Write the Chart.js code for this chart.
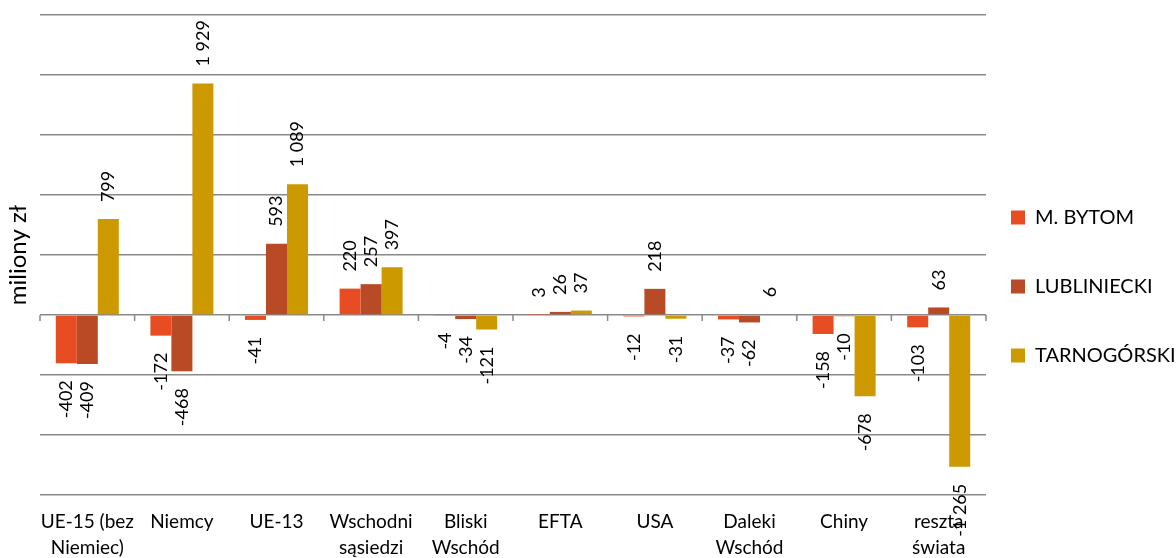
<!DOCTYPE html>
<html lang="pl">
<head>
<meta charset="UTF-8">
<title>Saldo obrotów</title>
<script src="https://cdn.jsdelivr.net/npm/chart.js"></script>
<style>
  html, body { margin: 0; padding: 0; background: #fff; }
  #wrap { width: 1176px; height: 558px; position: relative; }
</style>
</head>
<body>
<div id="wrap"><canvas id="chart"></canvas></div>
<script>
// dane (miliony zł)
const categories = [['UE-15 (bez', 'Niemiec)'], 'Niemcy', 'UE-13', ['Wschodni', 'sąsiedzi'],
  ['Bliski', 'Wschód'], 'EFTA', 'USA', ['Daleki', 'Wschód'], 'Chiny', ['reszta', 'świata']];
const seriesNames = ['M. BYTOM', 'LUBLINIECKI', 'TARNOGÓRSKI'];
const bytom = [-402, -172, -41, 220, -4, 3, -12, -37, -158, -103];
const lubliniecki = [-409, -468, 593, 257, -34, 26, 218, -62, -10, 63];
const tarnogorski = [799, 1929, 1089, 397, -121, 37, -31, 6, -678, -1265];
const yMin = -1500, yMax = 2500, yStep = 500;

const colors = ['#E84C22', '#B84A26', '#CC9900'];
const FONT = 'Lato';

function fmt(v) {
  const s = Math.abs(v).toString().replace(/\B(?=(\d{3})+(?!\d))/g, ' ');
  return (v < 0 ? '-' : '') + s;
}

// etykiety wartości obrócone o 90 stopni
const barLabels = {
  id: 'barLabels',
  afterDatasetsDraw(chart) {
    const ctx = chart.ctx;
    ctx.save();
    ctx.font = '18px ' + FONT;
    ctx.fillStyle = '#000';
    ctx.textBaseline = 'middle';
    chart.data.datasets.forEach((ds, di) => {
      chart.getDatasetMeta(di).data.forEach((bar, i) => {
        const v = ds.data[i];
        const up = v >= 0;
        ctx.save();
        ctx.translate(bar.x, up ? bar.y - 17 : bar.y + 17);
        ctx.rotate(-Math.PI / 2);
        ctx.textAlign = up ? 'left' : 'right';
        ctx.fillText(fmt(v), 0, 0);
        ctx.restore();
      });
    });
    ctx.restore();
  }
};

// kreski podziału kategorii na linii zera
const zeroTicks = {
  id: 'zeroTicks',
  beforeDatasetsDraw(chart) {
    const { ctx, scales: { x, y } } = chart;
    const y0 = y.getPixelForValue(0);
    const step = (x.right - x.left) / categories.length;
    ctx.save();
    ctx.strokeStyle = '#898989';
    ctx.lineWidth = 1.5;
    for (let i = 0; i <= categories.length; i++) {
      const px = x.left + i * step;
      ctx.beginPath();
      ctx.moveTo(px, y0);
      ctx.lineTo(px, y0 + 6);
      ctx.stroke();
    }
    ctx.restore();
  }
};

// legenda bliżej obszaru wykresu
const legendShift = {
  id: 'legendShift',
  afterLayout(chart) {
    chart.legend.left -= 24;
  }
};

new Chart(document.getElementById('chart'), {
  type: 'bar',
  data: {
    labels: categories,
    datasets: [bytom, lubliniecki, tarnogorski].map((d, i) => ({
      label: seriesNames[i],
      data: d,
      backgroundColor: colors[i],
      borderWidth: 0,
      categoryPercentage: 0.666,
      barPercentage: 1
    }))
  },
  options: {
    responsive: true,
    maintainAspectRatio: false,
    animation: false,
    layout: { padding: { top: 15, right: 0, left: 0, bottom: 0 } },
    plugins: {
      tooltip: { enabled: false },
      legend: {
        position: 'right',
        maxWidth: 190,
        labels: {
          font: { family: FONT, size: 20 },
          color: '#000',
          boxWidth: 14,
          boxHeight: 14,
          padding: 49
        }
      }
    },
    scales: {
      x: {
        grid: { display: false, drawTicks: false },
        border: { display: false },
        ticks: {
          font: { family: FONT, size: 19, lineHeight: 1.35 },
          color: '#000',
          maxRotation: 0,
          autoSkip: false,
          padding: 14
        },
        afterFit(scale) { scale.height = 63; }
      },
      y: {
        min: yMin,
        max: yMax,
        ticks: { display: false, stepSize: yStep },
        grid: { color: '#898989', lineWidth: 1.5, drawTicks: false },
        border: { display: false },
        title: {
          display: true,
          text: 'miliony zł',
          font: { family: FONT, size: 24 },
          color: '#000',
          padding: { top: 4, bottom: 0 }
        },
        afterFit(scale) { scale.width = 40; }
      }
    }
  },
  plugins: [zeroTicks, barLabels, legendShift]
});
</script>
</body>
</html>
